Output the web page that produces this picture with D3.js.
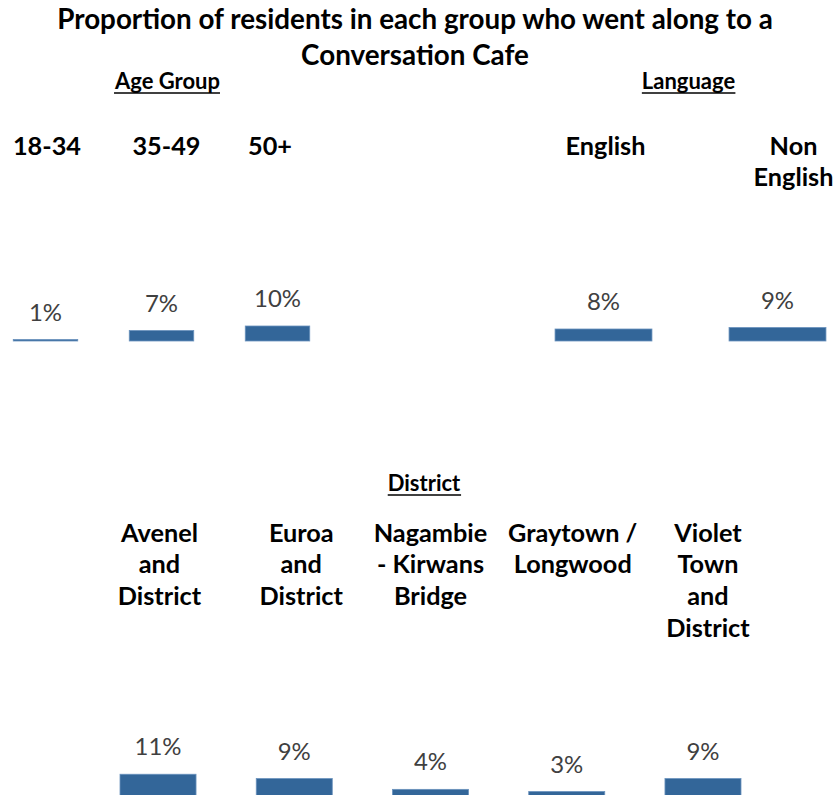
<!DOCTYPE html>
<html>
<head>
<meta charset="utf-8">
<script src="https://cdn.jsdelivr.net/npm/d3@7"></script>
<style>
  html, body { margin: 0; padding: 0; background: #fff; }
  svg { display: block; }
</style>
</head>
<body>
<div id="chart"></div>
<script>
// ---- data (percent of residents who attended) ----
const titleLines = ["Proportion of residents in each group who went along to  a", "Conversation Cafe"];

const ageGroups = ["18-34", "35-49", "50+"];
const ageLabelLines = [["18-34"], ["35-49"], ["50+"]];
const ageValues = [1, 7, 10];

const languages = ["English", "Non English"];
const languageLabelLines = [["English"], ["Non", "English"]];
const languageValues = [8, 9];

const districts = ["Avenel and District", "Euroa and District", "Nagambie - Kirwans Bridge", "Graytown / Longwood", "Violet Town and District"];
const districtLabelLines = [["Avenel", "and", "District"], ["Euroa", "and", "District"], ["Nagambie", "- Kirwans", "Bridge"], ["Graytown /", "Longwood"], ["Violet", "Town", "and", "District"]];
const districtValues = [11, 9, 4, 3, 9];

// ---- styling ----
const W = 837, H = 795;
const FONT = "Lato, 'Open Sans', 'DejaVu Sans', sans-serif";
const BAR = "#336699";
const BAR_EDGE = "#6a92bd";
const VALUE_COLOR = "#404040";

const svg = d3.select("#chart").append("svg")
  .attr("width", W).attr("height", H)
  .style("background", "#fff");

// measure a string at 100px and return the font size that gives the wanted width
function fitSize(str, weight, targetWidth) {
  const t = svg.append("text").attr("font-family", FONT).attr("font-weight", weight)
    .attr("font-size", 100).text(str);
  const w = t.node().getComputedTextLength();
  t.remove();
  return 100 * targetWidth / w;
}

const titleSize = fitSize(titleLines[0], "bold", 716);
const headSize = fitSize("Age Group", "bold", 105);
const catSize = fitSize("Avenel", "bold", 77);
const valSize = fitSize("10%", "normal", 47);

// ---- title ----
svg.selectAll("text.title").data(titleLines).join("text")
  .attr("class", "title")
  .attr("x", 415).attr("y", (d, i) => 29 + i * 36)
  .attr("text-anchor", "middle")
  .attr("font-family", FONT).attr("font-weight", "bold")
  .attr("font-size", titleSize).attr("fill", "#000")
  .text(d => d);

// underlined group heading
function heading(text, cx, baseline) {
  const t = svg.append("text")
    .attr("x", cx).attr("y", baseline).attr("text-anchor", "middle")
    .attr("font-family", FONT).attr("font-weight", "bold")
    .attr("font-size", headSize).attr("fill", "#000").text(text);
  const b = t.node().getBBox();
  svg.append("line")
    .attr("x1", b.x).attr("x2", b.x + b.width)
    .attr("y1", baseline + 4).attr("y2", baseline + 4)
    .attr("stroke", "#000").attr("stroke-width", 1.5);
}

// one panel of bars with category labels above and value labels on top of bars
function panel(opts) {
  const x = d3.scaleBand().domain(opts.categories).range(opts.range)
    .paddingInner(opts.pad).paddingOuter(opts.pad / 2);
  const y = d3.scaleLinear().domain([0, 100]).range([opts.baseline, opts.baseline - opts.pxPer100]);
  const data = opts.categories.map((c, i) => ({ c, v: opts.values[i], lines: opts.lines[i], dx: opts.labelDx[i] }));
  const g = svg.append("g");

  g.selectAll("rect").data(data).join("rect")
    .attr("x", d => x(d.c)).attr("width", x.bandwidth())
    .attr("y", d => y(d.v)).attr("height", d => y(0) - y(d.v))
    .attr("fill", BAR).attr("stroke", BAR_EDGE).attr("stroke-width", 0.8);

  g.selectAll("text.val").data(data).join("text")
    .attr("class", "val")
    .attr("x", d => x(d.c) + x.bandwidth() / 2)
    .attr("y", d => y(d.v) - 19)
    .attr("text-anchor", "middle")
    .attr("font-family", FONT).attr("font-size", valSize).attr("fill", VALUE_COLOR)
    .text(d => d.v + "%");

  const cat = g.selectAll("text.cat").data(data).join("text")
    .attr("class", "cat")
    .attr("text-anchor", "middle")
    .attr("font-family", FONT).attr("font-weight", "bold")
    .attr("font-size", catSize).attr("fill", "#000");
  cat.selectAll("tspan").data(d => d.lines.map(l => ({ l, cx: x(d.c) + x.bandwidth() / 2 + d.dx })))
    .join("tspan")
    .attr("x", d => d.cx)
    .attr("y", (d, i) => opts.labelTop + i * opts.lineHeight)
    .text(d => d.l);
}

heading("Age Group", 167.5, 89);
heading("Language", 688.5, 89);
heading("District", 424, 491);

panel({
  categories: ageGroups, values: ageValues, lines: ageLabelLines,
  range: [-12.5, 335.5], pad: 0.444, baseline: 341, pxPer100: 150,
  labelTop: 154.5, lineHeight: 31.5, labelDx: [1.5, 5, -7.5]
});

panel({
  categories: languages, values: languageValues, lines: languageLabelLines,
  range: [516.5, 864.5], pad: 0.443, baseline: 341, pxPer100: 150,
  labelTop: 154.5, lineHeight: 31.5, labelDx: [2, 16]
});

panel({
  categories: districts, values: districtValues, lines: districtLabelLines,
  range: [89.9, 771.1], pad: 0.442, baseline: 798, pxPer100: 216,
  labelTop: 541.5, lineHeight: 31.8, labelDx: [1.5, 7, 0, 6, 5]
});
</script>
</body>
</html>
